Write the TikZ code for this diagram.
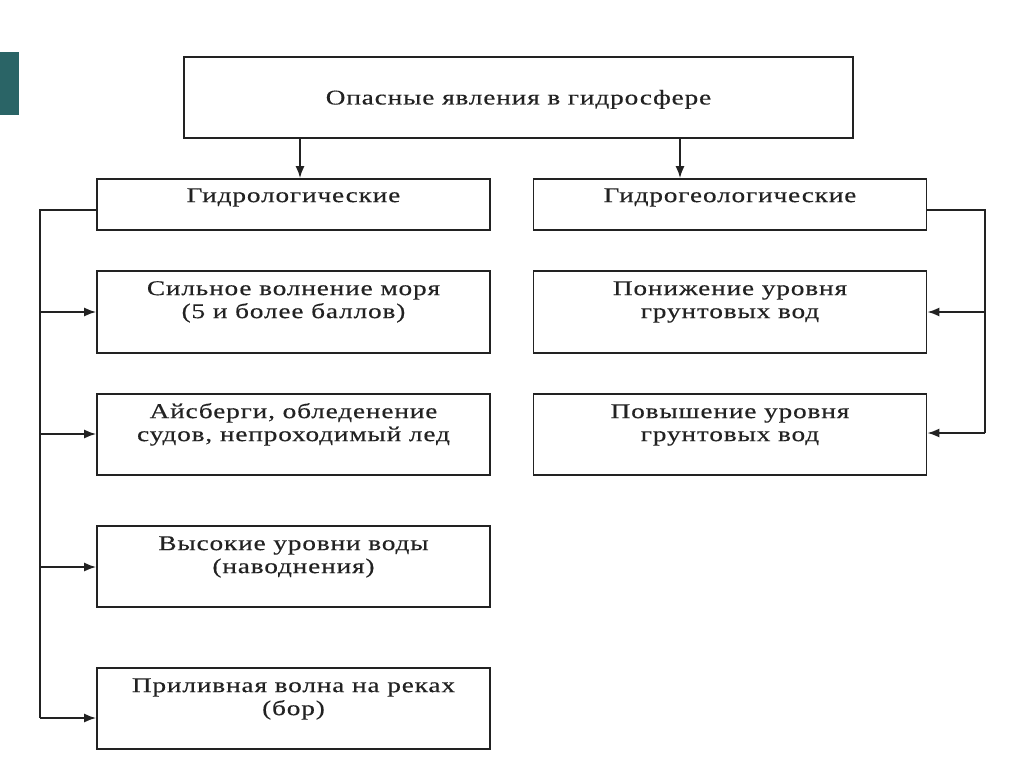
\documentclass[tikz,border=0pt]{standalone}
\usepackage{fontspec}
\setmainfont{Liberation Serif}[FakeStretch=1.3,LetterSpace=4,FakeBold=0.3]
\usetikzlibrary{arrows.meta,calc}
\definecolor{teal1}{HTML}{2A6466}
\definecolor{ln}{HTML}{222222}
\tikzset{
  box/.style={draw=ln,line width=1.8pt,minimum width=#1,inner sep=0pt},
  box/.default=393pt,
  txt/.style={anchor=base,inner sep=0pt,font=\fontsize{21}{23}\selectfont,text=ln},
  conn/.style={draw=ln,line width=1.6pt},
  arr/.style={conn,-{Latex[length=12pt,width=9pt]}},
}
\newcommand{\tb}[1]{\parbox[t]{390pt}{\centering #1}}
\begin{document}
\begin{tikzpicture}[x=1pt,y=-1pt]
\useasboundingbox (0,0) rectangle (1024,767);
\fill[white] (0,0) rectangle (1024,767);
\fill[teal1] (0,52) rectangle (19,115);

\node[box=669pt,minimum height=81pt] (top) at (518.5,97.5) {};
\node[txt] (ttop) at ($(top.center)+(0,7)$) {Опасные явления в гидросфере};

\node[box,minimum height=51pt] (hl) at (293.5,204.5) {};
\node[txt] (thl) at ($(hl.north)+(0,24)$) {Гидрологические};
\node[box,minimum height=51pt] (hg) at (730,204.5) {};
\node[txt] (thg) at ($(hg.north)+(0,24)$) {Гидрогеологические};

\node[box,minimum height=82pt] (l1) at (293.5,312) {};
\node[txt] (tl1) at ($(l1.north)+(0,25)$) {\tb{Сильное волнение моря\\(5 и более баллов)}};
\node[box,minimum height=81pt] (l2) at (293.5,434.5) {};
\node[txt] (tl2) at ($(l2.north)+(0,25)$) {\tb{Айсберги, обледенение\\судов, непроходимый лед}};
\node[box,minimum height=81pt] (l3) at (293.5,566.5) {};
\node[txt] (tl3) at ($(l3.north)+(0,25)$) {\tb{Высокие уровни воды\\(наводнения)}};
\node[box,minimum height=81pt] (l4) at (293.5,708.5) {};
\node[txt] (tl4) at ($(l4.north)+(0,25)$) {\tb{Приливная волна на реках\\(бор)}};

\node[box,minimum height=82pt] (r1) at (730,312) {};
\node[txt] (tr1) at ($(r1.north)+(0,25)$) {\tb{Понижение уровня\\грунтовых вод}};
\node[box,minimum height=81pt] (r2) at (730,434.5) {};
\node[txt] (tr2) at ($(r2.north)+(0,25)$) {\tb{Повышение уровня\\грунтовых вод}};

\draw[arr] (top.south -| 300,0) -- (hl.north -| 300,0);
\draw[arr] (top.south -| 680,0) -- (hg.north -| 680,0);

\coordinate (ls) at (40,210);
\coordinate (le) at (40,718);
\draw[conn] (hl.west |- ls) -- (ls) -- (le);
\draw[arr] (40,312) -- (l1.west |- 0,312);
\draw[arr] (40,434) -- (l2.west |- 0,434);
\draw[arr] (40,567) -- (l3.west |- 0,567);
\draw[arr] (le) -- (l4.west |- le);

\coordinate (rs) at (985,210);
\coordinate (re) at (985,433);
\draw[conn] (hg.east |- rs) -- (rs) -- (re);
\draw[arr] (985,312) -- (r1.east |- 0,312);
\draw[arr] (re) -- (r2.east |- re);
\end{tikzpicture}
\end{document}
